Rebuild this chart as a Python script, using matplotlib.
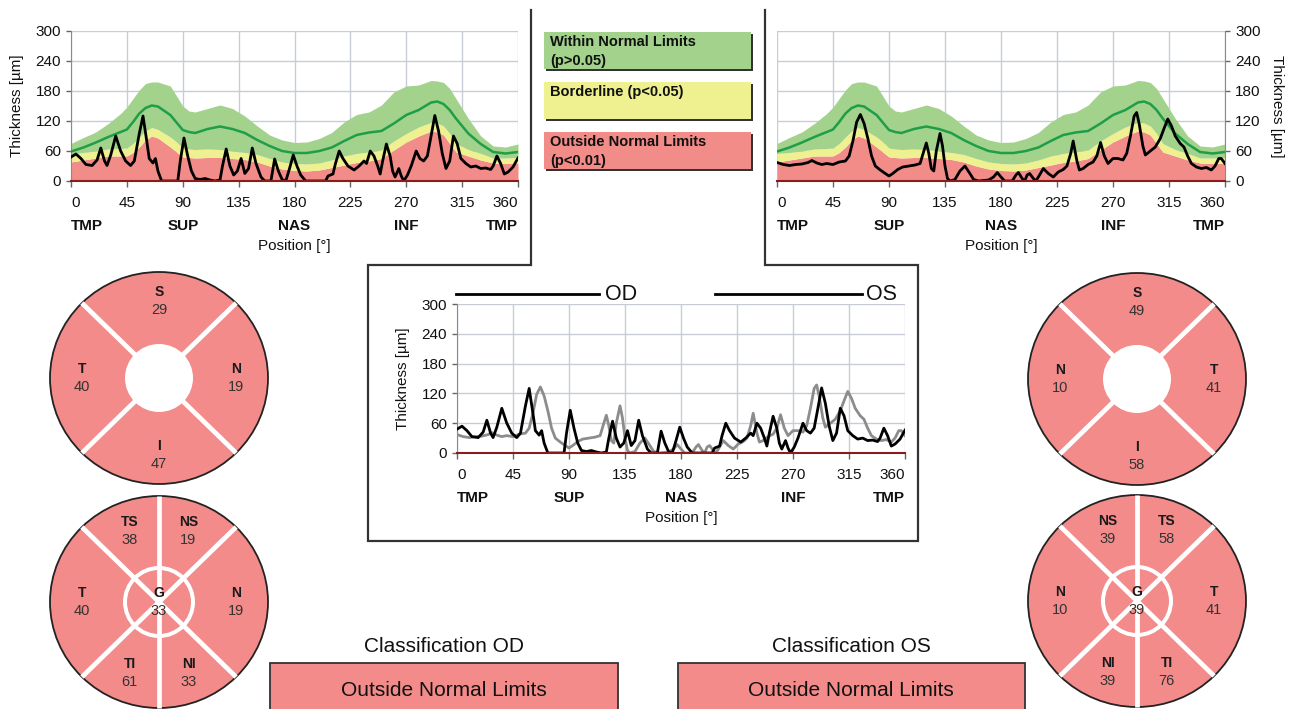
import matplotlib
matplotlib.use('Agg')
import matplotlib.pyplot as plt
from matplotlib.patches import Circle, Ellipse, Rectangle
from matplotlib.transforms import blended_transform_factory
import numpy as np

plt.rcParams['font.family'] = ['Liberation Sans', 'DejaVu Sans']

# ---------------- data ----------------
xticks = [0, 45, 90, 135, 180, 225, 270, 315, 360]
yticks = [0, 60, 120, 180, 240, 300]
sector_pos = [0, 90, 180, 270, 360]
sector_names = ['TMP', 'SUP', 'NAS', 'INF', 'TMP']

norm_angle = [0, 10, 20, 30, 40, 45, 50, 55, 60, 65, 70, 80, 85, 90, 95, 100, 110, 120, 130, 140,
              150, 160, 170, 180, 190, 200, 210, 220, 230, 240, 250, 260, 270, 280, 290, 295,
              300, 305, 310, 320, 330, 340, 350, 360]
green_top = [75, 87, 98, 115, 135, 148, 165, 182, 195, 198, 198, 190, 170, 150, 140, 138, 145, 152, 145, 130,
             110, 92, 82, 77, 78, 85, 97, 118, 133, 138, 152, 178, 190, 192, 201, 200,
             197, 185, 165, 125, 90, 70, 68, 74]
mean_line = [59, 67, 77, 88, 98, 103, 118, 135, 146, 151, 149, 132, 117, 102, 98, 96, 104, 109, 104, 96,
             82, 70, 60, 56, 56, 60, 67, 80, 92, 97, 100, 115, 132, 142, 157, 159,
             154, 142, 125, 95, 74, 58, 55, 58]
yellow_top = [55, 57, 60, 64, 65, 66, 75, 88, 100, 107, 103, 88, 78, 66, 64, 63, 64, 63, 60, 57,
              53, 45, 38, 35, 34, 36, 42, 50, 55, 58, 62, 80, 95, 108, 117, 116,
              110, 95, 75, 63, 55, 46, 46, 47]
red_top = [38, 42, 46, 50, 50, 50, 57, 68, 82, 90, 86, 68, 58, 48, 47, 46, 47, 47, 45, 43,
           38, 30, 24, 21, 20, 22, 27, 32, 37, 40, 45, 62, 78, 90, 100, 98,
           92, 75, 58, 50, 42, 36, 35, 36]

od_angle = [0, 4, 8, 12, 17, 21, 24, 27, 29, 32, 36, 40, 44, 48, 51, 55, 58, 61, 63, 66, 68, 70, 73,
            86, 88, 91, 94, 97, 100, 104, 108, 112, 116, 120, 122, 125, 128, 131, 134, 137, 140,
            143, 146, 149, 153, 156, 161, 164, 167, 170, 173, 176, 179, 182, 185, 189, 205, 207,
            211, 213, 216, 219, 223, 228, 232, 236, 238, 241, 244, 247, 249, 251, 254, 257, 259,
            261, 264, 266, 268, 271, 274, 278, 281, 284, 287, 290, 293, 296, 299, 302, 305, 308,
            311, 314, 318, 322, 326, 330, 334, 338, 340, 343, 346, 349, 352, 356, 360]
od_thick = [48, 54, 45, 33, 31, 42, 66, 40, 31, 52, 90, 60, 40, 31, 40, 95, 130, 80, 45, 36, 45, 20, 0,
            0, 40, 86, 50, 20, 5, 3, 5, 2, 0, 2, 30, 64, 30, 12, 20, 45, 15,
            25, 66, 35, 8, 0, 0, 44, 20, 3, 0, 25, 52, 30, 12, 0, 0, 10,
            14, 35, 60, 45, 30, 22, 30, 40, 35, 60, 50, 30, 14, 40, 74, 50, 20,
            8, 25, 10, 0, 12, 30, 60, 45, 40, 50, 90, 131, 100, 55, 25, 40, 90,
            75, 45, 35, 28, 30, 25, 26, 23, 30, 50, 35, 14, 18, 28, 46]

os_angle = [0, 5, 10, 15, 20, 25, 28, 32, 36, 40, 45, 50, 55, 58, 61, 64, 67, 70, 73, 76, 79, 83, 87,
            90, 93, 97, 101, 106, 111, 115, 118, 120, 122, 124, 126, 128, 131, 133, 135, 137, 139,
            143, 147, 151, 155, 158, 162, 170, 174, 177, 180, 183, 189, 192, 194, 197, 199, 201,
            203, 206, 208, 211, 214, 218, 222, 226, 230, 233, 236, 238, 241, 243, 246, 250, 254,
            257, 260, 263, 266, 270, 274, 278, 281, 284, 287, 289, 291, 294, 296, 300, 304, 308,
            311, 314, 317, 320, 324, 327, 330, 333, 337, 341, 345, 349, 352, 355, 357, 360]
os_thick = [37, 33, 31, 33, 34, 37, 41, 36, 33, 35, 33, 38, 40, 50, 80, 118, 133, 115, 85, 50, 30, 22, 15,
            10, 15, 23, 28, 30, 32, 35, 60, 76, 55, 25, 20, 60, 95, 70, 30, 5, 0,
            3, 20, 30, 15, 3, 0, 2, 8, 17, 8, 0, 0, 12, 17, 5, 0, 12,
            15, 5, 0, 12, 25, 15, 8, 18, 23, 30, 55, 80, 40, 22, 25, 33, 38,
            50, 77, 50, 35, 45, 45, 42, 55, 90, 130, 137, 115, 70, 52, 60, 68, 85,
            105, 124, 110, 90, 75, 68, 50, 35, 28, 25, 27, 22, 30, 45, 45, 35]

# sector analysis values
od_quad = {'S': 29, 'N': 19, 'I': 47, 'T': 40}
os_quad = {'S': 49, 'T': 41, 'I': 58, 'N': 10}
od_sect = {'TS': 38, 'NS': 19, 'N': 19, 'NI': 33, 'TI': 61, 'T': 40, 'G': 33}
os_sect = {'NS': 39, 'TS': 58, 'T': 41, 'TI': 76, 'NI': 39, 'N': 10, 'G': 39}

legend_labels = ['Within Normal Limits\n(p>0.05)', 'Borderline (p<0.05)', 'Outside Normal Limits\n(p<0.01)']
classification_od = 'Outside Normal Limits'
classification_os = 'Outside Normal Limits'

# ---------------- style ----------------
GREEN = '#a2d28b'
YELLOW = '#eff08f'
RED = '#f28c89'
PINK = '#f28b8a'
MEAN = '#1f9e49'
GRID = '#c8ccd8'
AXRED = '#8b1c1c'
TXT = '#111111'

W, H = 1292, 709
fig = plt.figure(figsize=(W / 100, H / 100), dpi=100)
fig.patch.set_facecolor('white')


def axes_px(l, t, r, b, **kw):
    return fig.add_axes([l / W, 1 - b / H, (r - l) / W, (b - t) / H], **kw)


ax0 = axes_px(0, 0, W, H)
ax0.set_xlim(0, W)
ax0.set_ylim(H, 0)
ax0.axis('off')


def pt(px):
    return px * 72 / 100


def setup_chart(ax, right=False, axh=150):
    ax.set_xlim(0, 360)
    ax.set_ylim(0, 300)
    ax.set_xticks(xticks)
    ax.set_yticks(yticks)
    ax.set_xticklabels([str(v) for v in xticks])
    ax.grid(True, color=GRID, lw=1)
    ax.set_axisbelow(True)
    for s in ['top', 'right', 'left', 'bottom']:
        ax.spines[s].set_visible(False)
    side = 'right' if right else 'left'
    ax.spines[side].set_visible(True)
    ax.spines[side].set_color('#8a8a8a')
    ax.spines['bottom'].set_visible(True)
    ax.spines['bottom'].set_color(AXRED)
    ax.spines['bottom'].set_linewidth(1.5)
    ax.spines['bottom'].set_zorder(5)
    ax.tick_params(axis='x', length=pt(6), width=1, color='#666', pad=pt(9), labelsize=11, labelcolor=TXT)
    ax.tick_params(axis='y', length=pt(5), width=1, color='#666', pad=pt(5), labelsize=11, labelcolor=TXT)
    if right:
        ax.yaxis.tick_right()
    labs = ax.get_xticklabels()
    labs[0].set_ha('left')
    labs[-1].set_ha('right')
    tr = blended_transform_factory(ax.transData, ax.transAxes)
    for p, n in zip(sector_pos, sector_names):
        ha = 'left' if p == 0 else ('right' if p == 360 else 'center')
        ax.text(p, -45 / axh, n, transform=tr, ha=ha, va='center', fontsize=11,
                fontweight='bold', color=TXT)
    ax.set_xlabel('Position [°]', fontsize=11, color=TXT, va='center')
    ax.xaxis.set_label_coords(0.5, -65 / axh)
    if right:
        ax.yaxis.set_label_position('right')
        ax.set_ylabel('Thickness [µm]', fontsize=11, color=TXT, rotation=270, va='center')
        ax.yaxis.set_label_coords(1 + 52 / 448, 0.5)
    else:
        ax.set_ylabel('Thickness [µm]', fontsize=11, color=TXT, va='center')
        ax.yaxis.set_label_coords(-54 / 448, 0.5)


def draw_norm(ax):
    ax.fill_between(norm_angle, 0, red_top, color=RED, lw=0, zorder=1)
    ax.fill_between(norm_angle, red_top, yellow_top, color=YELLOW, lw=0, zorder=1)
    ax.fill_between(norm_angle, yellow_top, green_top, color=GREEN, lw=0, zorder=1)
    ax.plot(norm_angle, mean_line, color=MEAN, lw=1.8, zorder=3)


# top-left (OD)
ax1 = axes_px(71, 31, 518, 181)
setup_chart(ax1)
draw_norm(ax1)
ax1.plot(od_angle, od_thick, color='black', lw=2, zorder=4, solid_joinstyle='round')

# top-right (OS)
ax2 = axes_px(777, 31, 1225, 181)
setup_chart(ax2, right=True)
draw_norm(ax2)
ax2.plot(os_angle, os_thick, color='black', lw=2, zorder=4, solid_joinstyle='round')

# centre comparison
ax3 = axes_px(457, 304, 905, 453)
setup_chart(ax3, axh=149)
ax3.plot(os_angle, os_thick, color='#8c8c8c', lw=2, zorder=3, solid_joinstyle='round')
ax3.plot(od_angle, od_thick, color='black', lw=2, zorder=4, solid_joinstyle='round')

# OD / OS header lines
ax0.plot([456, 599], [294, 294], color='black', lw=2)
ax0.text(605, 294, 'OD', fontsize=15.5, ha='left', va='center', color=TXT)
ax0.plot([715, 862], [294, 294], color='black', lw=2)
ax0.text(866, 294, 'OS', fontsize=15.5, ha='left', va='center', color=TXT)

# outline frame
fx = [531, 531, 368, 368, 918, 918, 765, 765]
fy = [10, 265, 265, 541, 541, 265, 265, 10]
ax0.plot(fx, fy, color='#333333', lw=1.6, solid_joinstyle='miter')

# legend boxes
leg_cols = [GREEN, YELLOW, RED]
leg_tops = [32, 82, 132]
for col, top, lab in zip(leg_cols, leg_tops, legend_labels):
    ax0.add_patch(Rectangle((546, top + 2), 207, 37, facecolor='#333333', lw=0))
    ax0.add_patch(Rectangle((544, top), 207, 37, facecolor=col, lw=0))
    ax0.text(550, top + 3, lab, fontsize=10.5, fontweight='bold', ha='left', va='top',
             color=TXT, linespacing=1.45)

RX, RY = 109, 106


def circle_base(cx, cy, extra_lines, ring):
    ax0.add_patch(Ellipse((cx, cy), 2 * RX, 2 * RY, facecolor=PINK, edgecolor='none'))
    angs = [45, 135, 225, 315] + extra_lines
    for a in angs:
        ax0.plot([cx, cx + RX * np.cos(np.radians(a))], [cy, cy - RY * np.sin(np.radians(a))],
                 color='white', lw=3.4, solid_capstyle='butt')
    if ring:
        ax0.add_patch(Circle((cx, cy), 36, facecolor='white', edgecolor='none'))
        ax0.add_patch(Circle((cx, cy), 32, facecolor=PINK, edgecolor='none'))
    else:
        ax0.add_patch(Circle((cx, cy), 34, facecolor='white', edgecolor='none'))
    ax0.add_patch(Ellipse((cx, cy), 2 * RX, 2 * RY, facecolor='none', edgecolor='#222222', lw=1.3))


def sector_text(cx, cy, ang, rad, name, val):
    x = cx + rad * np.cos(np.radians(ang))
    y = cy - rad * np.sin(np.radians(ang))
    ax0.text(x, y - 9, name, fontsize=10, fontweight='bold', ha='center', va='center', color='#1a1a1a')
    ax0.text(x, y + 9, str(val), fontsize=10.5, ha='center', va='center', color='#333333')


quad_ang_od = {'S': 90, 'N': 0, 'I': 270, 'T': 180}
quad_ang_os = {'S': 90, 'T': 0, 'I': 270, 'N': 180}
sect_ang_od = {'TS': 112.5, 'NS': 67.5, 'N': 0, 'NI': 292.5, 'TI': 247.5, 'T': 180}
sect_ang_os = {'NS': 112.5, 'TS': 67.5, 'T': 0, 'TI': 292.5, 'NI': 247.5, 'N': 180}

for (cx, cy), quad, qang in [((159, 378), od_quad, quad_ang_od), ((1137, 379), os_quad, quad_ang_os)]:
    circle_base(cx, cy, [], False)
    for k, v in quad.items():
        sector_text(cx, cy, qang[k], 77, k, v)

for (cx, cy), sect, sang in [((159, 602), od_sect, sect_ang_od), ((1137, 601), os_sect, sect_ang_os)]:
    circle_base(cx, cy, [90, 270], True)
    for k, v in sect.items():
        if k == 'G':
            sector_text(cx, cy, 0, 0, k, v)
        else:
            sector_text(cx, cy, sang[k], 77, k, v)

# classification
for cxl, l, r, title, val in [(444, 270, 618, 'Classification OD', classification_od),
                              (851, 678, 1025, 'Classification OS', classification_os)]:
    ax0.text(cxl, 647, title, fontsize=15, ha='center', va='center', color=TXT)
    ax0.add_patch(Rectangle((l, 663), r - l, 60, facecolor=PINK, edgecolor='#333333', lw=1.3))
    ax0.text(cxl, 690, val, fontsize=15, ha='center', va='center', color=TXT)

fig.savefig('out.png', dpi=100)
